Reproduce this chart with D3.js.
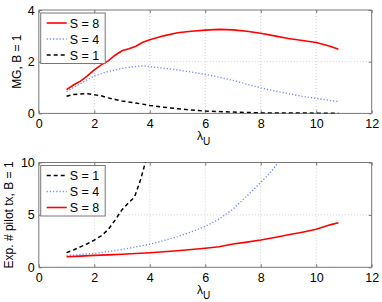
<!DOCTYPE html>
<html><head><meta charset="utf-8">
<script src="https://cdn.jsdelivr.net/npm/d3@7"></script>
<style>
body{margin:0;background:#fff;}
text{font-family:"Liberation Sans",Arial,sans-serif;fill:#000;}
</style></head>
<body><svg id="c" width="382" height="302"></svg>
<script>
// ---- data ----
const xTicks = [0, 2, 4, 6, 8, 10, 12];
const topYTicks = [0, 2, 4];
const botYTicks = [0, 5, 10];
const seriesNames = ["S = 8", "S = 4", "S = 1"];

const mgS8 = [[1,0.92],[1.25,1.1],[1.5,1.25],[1.75,1.45],[2,1.68],[2.25,1.88],[2.5,2.03],[2.75,2.25],[3,2.42],[3.25,2.5],[3.5,2.6],[3.75,2.75],[4,2.85],[4.5,3.0],[5,3.12],[5.5,3.18],[6,3.22],[6.5,3.25],[7,3.23],[7.5,3.18],[8,3.1],[8.5,3.0],[9,2.9],[9.5,2.82],[10,2.74],[10.5,2.6],[10.8,2.48]];
const mgS4 = [[1,0.85],[1.5,1.15],[2,1.45],[2.5,1.62],[3,1.74],[3.5,1.82],[3.75,1.84],[4,1.81],[4.5,1.75],[5,1.68],[5.5,1.6],[6,1.51],[6.5,1.4],[7,1.28],[7.5,1.13],[8,0.99],[8.5,0.87],[9,0.76],[9.5,0.66],[10,0.58],[10.5,0.5],[10.8,0.46]];
const mgS1 = [[1,0.66],[1.25,0.73],[1.5,0.75],[1.75,0.76],[2,0.72],[2.25,0.68],[2.5,0.6],[2.75,0.54],[3,0.48],[3.5,0.4],[4,0.31],[4.5,0.24],[5,0.18],[5.5,0.13],[6,0.09],[6.5,0.07],[7,0.05],[8,0.02],[9,0.015],[10,0.01],[10.8,0.01]];

const ptS1 = [[1,1.4],[1.25,1.65],[1.5,1.95],[1.75,2.25],[2,2.6],[2.25,3.0],[2.5,3.6],[2.75,4.5],[3,5.5],[3.25,6.2],[3.45,6.7],[3.65,8.2],[3.83,9.9],[3.9,10.4]];
const ptS4 = [[1,1.12],[1.5,1.22],[2,1.32],[2.5,1.5],[3,1.7],[3.5,1.95],[4,2.2],[4.5,2.55],[5,2.92],[5.5,3.38],[6,3.9],[6.5,4.6],[7,5.55],[7.5,6.8],[8,8.1],[8.3,8.9],[8.6,9.9],[8.7,10.3]];
const ptS8 = [[1,1.01],[1.5,1.07],[2,1.14],[2.5,1.19],[3,1.24],[3.5,1.31],[4,1.39],[4.5,1.48],[5,1.58],[5.5,1.7],[6,1.82],[6.5,1.96],[7,2.22],[7.5,2.4],[8,2.6],[8.5,2.85],[9,3.1],[9.5,3.35],[10,3.63],[10.5,4.05],[10.8,4.26]];

// ---- styles ----
const styles = {
  "S = 8": {color:"#ff0000", dash:null, width:1.6},
  "S = 4": {color:"#7888ff", dash:"1.2,2", width:1.4},
  "S = 1": {color:"#000000", dash:"4,3", width:1.5}
};

const svg = d3.select("#c");
const L = 38.8, R = 371.7;

function panel(opts){
  const x = d3.scaleLinear().domain([0,12]).range([L,R]);
  const y = d3.scaleLinear().domain(opts.ydom).range([opts.bottom, opts.top]);
  const g = svg.append("g");
  const id = "clip"+opts.id;
  svg.append("clipPath").attr("id",id).append("rect")
    .attr("x",L).attr("y",opts.top).attr("width",R-L).attr("height",opts.bottom-opts.top);
  // grid
  g.append("g").selectAll("line").data(xTicks.slice(1,-1)).join("line")
    .attr("x1",d=>x(d)).attr("x2",d=>x(d)).attr("y1",opts.top).attr("y2",opts.bottom)
    .attr("stroke","#c4c4c4").attr("stroke-width",0.8).attr("stroke-dasharray","1,2");
  g.append("g").selectAll("line").data(opts.yticks.slice(1,-1)).join("line")
    .attr("y1",d=>y(d)).attr("y2",d=>y(d)).attr("x1",L).attr("x2",R)
    .attr("stroke","#c4c4c4").attr("stroke-width",0.8).attr("stroke-dasharray","1,2");
  // axes
  const fmt = d3.format("d");
  const ax = d3.axisBottom(x).tickValues(xTicks).tickSize(-3).tickPadding(6).tickFormat(fmt);
  const gx = g.append("g").attr("transform",`translate(0,${opts.bottom})`).call(ax);
  const ay = d3.axisLeft(y).tickValues(opts.yticks).tickSize(-3).tickPadding(4).tickFormat(fmt);
  const gy = g.append("g").attr("transform",`translate(${L},0)`).call(ay);
  const ax2 = d3.axisTop(x).tickValues(xTicks).tickSize(-3).tickFormat("");
  const gx2 = g.append("g").attr("transform",`translate(0,${opts.top})`).call(ax2);
  const ay2 = d3.axisRight(y).tickValues(opts.yticks).tickSize(-3).tickFormat("");
  const gy2 = g.append("g").attr("transform",`translate(${R},0)`).call(ay2);
  [gx,gy,gx2,gy2].forEach(a=>{
    a.select(".domain").attr("stroke","#777").attr("stroke-width",1);
    a.selectAll(".tick line").attr("stroke","#777");
    a.selectAll(".tick text").attr("font-size",12.5).style("font-family","'Liberation Sans',Arial,sans-serif").attr("fill","#000");
  });
  gy.select(".domain").attr("d",`M0,${opts.top}V${opts.bottom}`);
  gx.select(".domain").attr("d",`M${L},0H${R}`);
  gy2.select(".domain").attr("d",`M0,${opts.top}V${opts.bottom}`);
  gx2.select(".domain").attr("d",`M${L},0H${R}`);
  // lines
  const line = d3.line().x(d=>x(d[0])).y(d=>y(d[1]));
  const lg = g.append("g").attr("clip-path",`url(#${id})`);
  opts.series.forEach(s=>{
    const st = styles[s.name];
    lg.append("path").datum(s.data).attr("d",line).attr("fill","none")
      .attr("stroke",st.color).attr("stroke-width",st.width)
      .attr("stroke-dasharray",st.dash);
  });
  // x label
  const xl = g.append("text").attr("x",x(5.7)).attr("y",opts.bottom+27).attr("font-size",12);
  xl.append("tspan").text("λ");
  xl.append("tspan").attr("font-size",10).attr("dy",5).text("U");
  // y label
  g.append("text").attr("transform",`translate(${opts.ylabX},${(opts.top+opts.bottom)/2}) rotate(-90)`)
    .attr("text-anchor","middle").attr("font-size",12).text(opts.ylabel);
  // legend
  const lx = 40.7, ly = opts.top+3, lw = 64.5, lh = 50.5;
  const leg = g.append("g");
  leg.append("rect").attr("x",lx).attr("y",ly).attr("width",lw).attr("height",lh)
    .attr("fill","#fff").attr("stroke","#777").attr("stroke-width",1);
  opts.series.forEach((s,i)=>{
    const st = styles[s.name];
    const yy = ly + 10 + i*16;
    leg.append("line").attr("x1",lx+6).attr("x2",lx+26).attr("y1",yy).attr("y2",yy)
      .attr("stroke",st.color).attr("stroke-width",st.width).attr("stroke-dasharray",st.dash);
    leg.append("text").attr("x",lx+29).attr("y",yy+4.5).attr("font-size",12.5).text(s.name);
  });
}

panel({id:"a", top:10, bottom:113.4, ydom:[0,4], yticks:topYTicks, ylabel:"MG, B = 1", ylabX:20.5,
  series:[{name:seriesNames[0],data:mgS8},{name:seriesNames[1],data:mgS4},{name:seriesNames[2],data:mgS1}]});
panel({id:"b", top:162.5, bottom:267.3, ydom:[0,10], yticks:botYTicks, ylabel:"Exp. # pilot tx, B = 1", ylabX:12.5,
  series:[{name:seriesNames[2],data:ptS1},{name:seriesNames[1],data:ptS4},{name:seriesNames[0],data:ptS8}]});
</script></body></html>
